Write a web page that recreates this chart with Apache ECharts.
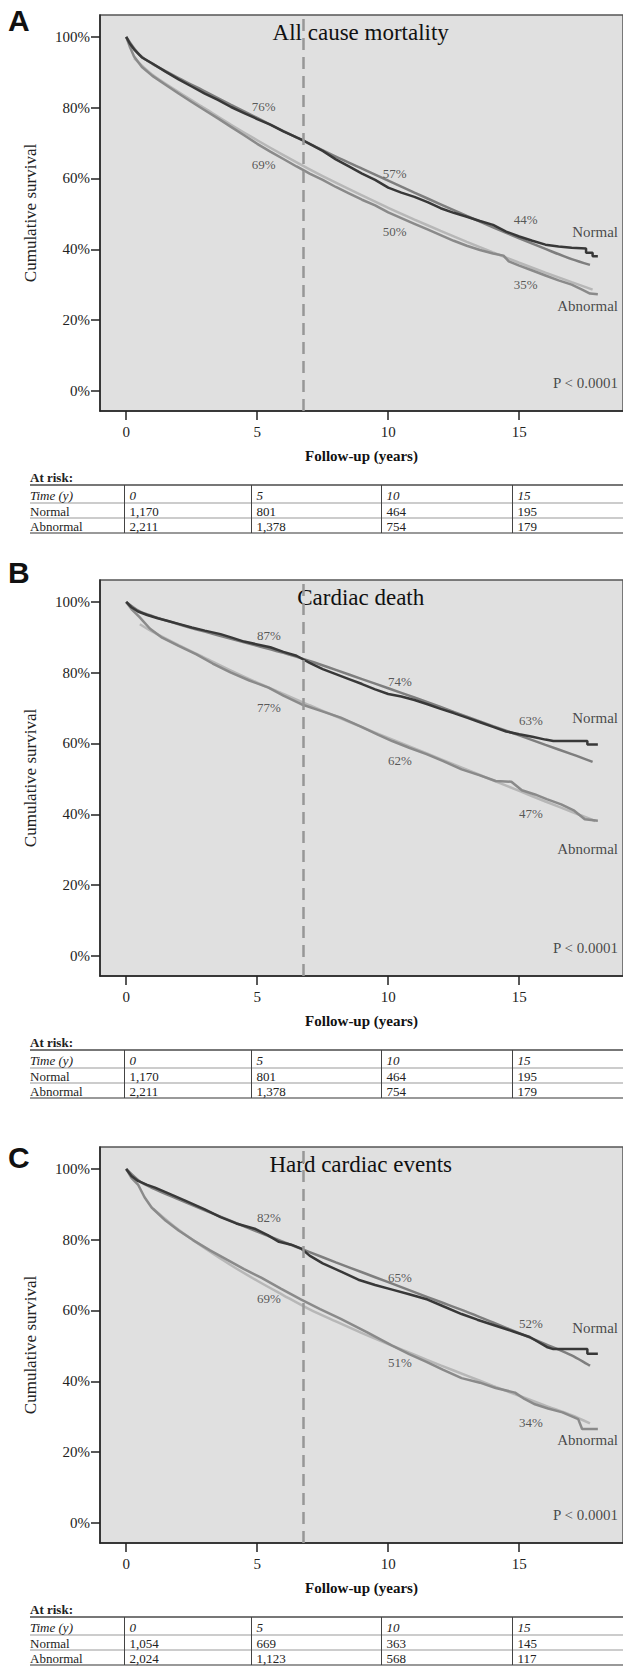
<!DOCTYPE html>
<html>
<head>
<meta charset="utf-8">
<script src="https://cdn.jsdelivr.net/npm/echarts@6.0.0/dist/echarts.min.js"></script>
<style>
html,body{margin:0;padding:0;background:#fff;}
#main{width:623px;height:1669px;}
</style>
</head>
<body>
<div id="main"></div>
<script>
// ---- data ----
const tickYears = [0, 5, 10, 15];
const tickPct = [0, 20, 40, 60, 80, 100];
const cutoffYear = 6.77;
const panelLetters = ['A', 'B', 'C'];
const panelTitles = ['All cause mortality', 'Cardiac death', 'Hard cardiac events'];
const labelYears = [5, 10, 15];

// A: all cause mortality
const normalKM_A = [[0,100],[0.15,98],[0.3,96.5],[0.6,94.2],[1,92.5],[1.5,90.2],[2,88],[2.5,86],[3,84],[3.5,82.2],[4,80.2],[4.5,78.5],[5,76.8],[5.5,75.2],[6,73.3],[6.5,71.6],[6.8,70.6],[7,69.8],[7.5,67.8],[8,65.4],[8.5,63.4],[9,61.4],[9.5,59.6],[10,57.4],[10.5,56],[11,54.8],[11.5,53.3],[12,51.6],[12.5,50.3],[13,49.2],[13.5,48],[14,46.9],[14.5,45],[15,43.6],[15.5,42.4],[16,41.3],[16.5,40.8],[17,40.4],[17.55,40.2],[17.55,39],[17.8,39],[17.8,38],[18,38]];
const normalFit_A = [[0,100],[0.5,95],[1,92.4],[2,88.4],[3,84.6],[4,80.8],[5,77.1],[6,73.4],[7,69.8],[8,66.2],[9,62.8],[10,59.4],[11,56],[12,52.7],[13,49.4],[14,46.2],[15,43.1],[16,40.1],[17,37.2],[17.7,35.6]];
const abnormalKM_A = [[0,100],[0.15,97],[0.3,94.5],[0.6,91.5],[1,89],[1.5,86.5],[2,84],[2.5,81.6],[3,79.3],[3.5,77],[4,74.6],[4.5,72.2],[5,69.8],[5.5,67.6],[6,65.5],[6.5,63.4],[6.8,62.2],[7,61.4],[7.5,59.6],[8,57.6],[8.5,55.8],[9,54],[9.5,52.4],[10,50.4],[10.5,48.8],[11,47.2],[11.5,45.6],[12,44],[12.5,42.4],[13,41],[13.5,39.8],[14,38.8],[14.4,38.2],[14.6,36.6],[15,35.4],[15.5,34],[16,32.6],[16.5,31.2],[17,30],[17.4,28.6],[17.7,27.5],[18,27.3]];
const abnormalFit_A = [[0.3,94],[1,89.3],[2,84.4],[3,79.8],[4,75.2],[5,70.8],[6,66.6],[7,62.6],[8,58.8],[9,55.2],[10,51.7],[11,48.4],[12,45.2],[13,42.1],[14,39.1],[15,36.2],[16,33.4],[17,30.7],[17.8,28.6]];
const normalPct_A = [76, 57, 44];
const abnormalPct_A = [69, 50, 35];
const riskNormal_A = ['1,170', '801', '464', '195'];
const riskAbnormal_A = ['2,211', '1,378', '754', '179'];

// B: cardiac death
const normalKM_B = [[0,100],[0.2,98.5],[0.45,97.3],[0.8,96.3],[1.2,95.4],[1.6,94.6],[2,93.8],[2.5,92.8],[3,91.9],[3.6,90.9],[4,90],[4.5,88.8],[5,88],[5.5,87.2],[6,85.9],[6.5,84.8],[6.8,83.6],[7,82.8],[7.5,81],[8,79.6],[8.5,78.2],[9,76.8],[9.5,75.3],[10,74],[10.5,73.3],[11,72.3],[11.5,71.1],[12,69.8],[12.5,68.6],[13,67.3],[13.5,66],[14,64.7],[14.5,63.4],[15,62.6],[15.5,61.9],[16,61.1],[16.3,60.7],[17.6,60.7],[17.6,59.7],[18,59.7]];
const normalFit_B = [[0,100],[0.5,97.4],[1,96],[2,93.7],[3,91.6],[4,89.6],[5,87.6],[6,85.6],[7,83.3],[8,80.8],[9,78.2],[10,75.6],[11,73],[12,70.3],[13,67.6],[14,64.9],[15,62.3],[16,59.6],[17,57],[17.8,54.8]];
const abnormalKM_B = [[0,100],[0.2,98],[0.5,95.8],[0.9,92.5],[1.37,89.9],[2,87.6],[2.68,85.2],[3.3,82.6],[4,80],[4.7,77.8],[5.43,75.8],[6,73.5],[6.68,71.1],[7.4,69.3],[8.19,67.3],[9,64.6],[9.6,62.5],[10.15,60.7],[10.8,58.8],[11.46,57],[12.1,55],[12.8,52.7],[13.5,51],[14.1,49.4],[14.7,49.2],[15.1,46.8],[15.6,45.6],[16.05,44.3],[16.6,42.8],[17.1,41],[17.5,38.6],[18,38.2]];
const abnormalFit_B = [[0.52,93.7],[1,91.6],[2,87.8],[3,84.2],[4,80.6],[5,77.2],[6,74],[7,70.8],[8,67.7],[9,64.6],[10,61.6],[11,58.6],[12,55.6],[13,52.6],[14,49.6],[15,46.6],[16,43.6],[17,40.7],[17.9,38.1]];
const normalPct_B = [87, 74, 63];
const abnormalPct_B = [77, 62, 47];
const riskNormal_B = ['1,170', '801', '464', '195'];
const riskAbnormal_B = ['2,211', '1,378', '754', '179'];

// C: hard cardiac events
const normalKM_C = [[0,100],[0.2,98],[0.45,96.6],[0.8,95.5],[1.1,94.7],[1.7,92.8],[2.27,91],[3,88.6],[3.6,86.4],[4.2,84.6],[4.9,83.1],[5.4,81.3],[5.83,79.4],[6.3,78.6],[6.68,77.5],[7,75.5],[7.5,73.3],[8.2,71],[8.86,68.7],[9.5,67.2],[10.15,65.9],[10.8,64.6],[11.5,63.1],[12.1,61.2],[12.8,59],[13.4,57.4],[14.1,55.7],[14.8,54],[15.4,52.5],[16.05,49.7],[16.3,49.1],[17.6,49.1],[17.6,47.8],[18,47.8]];
const normalFit_C = [[0,100],[0.5,96.6],[1,94.6],[2,91.4],[3,88.3],[4,85.3],[5,82.3],[6,79.4],[7,76.5],[8,73.6],[9,70.8],[10,68],[11,65.2],[12,62.4],[13,59.6],[14,56.6],[15,53.6],[16,50.5],[17,47.3],[17.7,44.4]];
const abnormalKM_C = [[0,100],[0.2,97.5],[0.45,95.6],[0.7,92],[0.97,89.1],[1.5,85.4],[2,82.6],[2.55,79.9],[3.2,77],[3.86,74.3],[4.5,71.7],[5.17,69.2],[5.9,66.2],[6.68,63.1],[7.4,60.4],[8.19,57.6],[9.2,53.8],[10.15,50.1],[10.8,47.7],[11.46,45.5],[12.1,43.2],[12.8,40.9],[13.5,39.6],[14.1,38.1],[14.84,36.8],[15.2,35],[15.6,33.5],[16.1,32.3],[16.65,31.2],[17.25,29.3],[17.4,26.5],[18,26.5]];
const abnormalFit_C = [[1.04,88.7],[2,82.8],[3,77.6],[4,72.8],[5,68.4],[6,64.3],[7,60.3],[8,56.9],[9,53.6],[10,50.5],[11,47.5],[12,44.5],[13,41.6],[14,38.7],[15,35.9],[16,33.1],[17,30.4],[17.7,28.1]];
const normalPct_C = [82, 65, 52];
const abnormalPct_C = [69, 51, 34];
const riskNormal_C = ['1,054', '669', '363', '145'];
const riskAbnormal_C = ['2,024', '1,123', '568', '117'];

// ---- layout ----
const SERIF = "'Liberation Serif', 'DejaVu Serif', serif";
const SANS = "'Liberation Sans', Arial, sans-serif";
const GRID_H = 396;
// table column separators sit a little left of each tick (in years)
const colShift = [-0.1, -0.24, -0.29, -0.26];

const panels = [
  {top: 15, letterY: 20, nKM: normalKM_A, nFit: normalFit_A, aKM: abnormalKM_A, aFit: abnormalFit_A,
   nPct: normalPct_A, aPct: abnormalPct_A, rN: riskNormal_A, rA: riskAbnormal_A,
   dx: 0.25, nDy: 4.3, aDy: -5, nTagY: 45, aTagY: 23.9},
  {top: 580, letterY: 572, nKM: normalKM_B, nFit: normalFit_B, aKM: abnormalKM_B, aFit: abnormalFit_B,
   nPct: normalPct_B, aPct: abnormalPct_B, rN: riskNormal_B, rA: riskAbnormal_B,
   dx: 0.45, nDy: 3.5, aDy: -6.9, nTagY: 67.2, aTagY: 30.2},
  {top: 1147, letterY: 1157, nKM: normalKM_C, nFit: normalFit_C, aKM: abnormalKM_C, aFit: abnormalFit_C,
   nPct: normalPct_C, aPct: abnormalPct_C, rN: riskNormal_C, rA: riskAbnormal_C,
   dx: 0.45, nDy: 4.3, aDy: -5.6, nTagY: 55.1, aTagY: 23.5}
];

const chart = echarts.init(document.getElementById('main'), null, {renderer: 'svg'});

const grids = [], xAxes = [], yAxes = [], series = [];
panels.forEach((p, i) => {
  grids.push({left: 100, right: -2, top: p.top, height: GRID_H, show: true,
    backgroundColor: '#e0e0e0', borderColor: '#555', borderWidth: 1.5});
  xAxes.push({
    type: 'value', gridIndex: i, min: -1, max: 18.96,
    axisLine: {show: true, onZero: false, lineStyle: {color: '#222', width: 1.5}},
    axisTick: {show: true, inside: false, length: 9, customValues: tickYears, lineStyle: {color: '#222', width: 1.5}},
    axisLabel: {customValues: tickYears, fontFamily: SERIF, fontSize: 15, color: '#222', margin: 13},
    splitLine: {show: false},
    name: 'Follow-up (years)', nameLocation: 'middle', nameGap: 37,
    nameTextStyle: {fontFamily: SERIF, fontWeight: 'bold', fontSize: 15, color: '#111'}
  });
  yAxes.push({
    type: 'value', gridIndex: i, min: -5.7, max: 106.2,
    axisLine: {show: true, onZero: false, lineStyle: {color: '#222', width: 1.5}},
    axisTick: {show: true, inside: false, length: 9, customValues: tickPct, lineStyle: {color: '#222', width: 1.5}},
    axisLabel: {customValues: tickPct, formatter: '{value}%', fontFamily: SERIF, fontSize: 15, color: '#222', margin: 10},
    splitLine: {show: false},
    name: 'Cumulative survival', nameLocation: 'middle', nameGap: 61,
    nameTextStyle: {fontFamily: SERIF, fontSize: 17, color: '#222'}
  });

  const base = {xAxisIndex: i, yAxisIndex: i, showSymbol: false, symbol: 'none', silent: true, animation: false};
  series.push(Object.assign({}, base, {
    type: 'line', data: p.nFit, smooth: 0.3, z: 2,
    lineStyle: {color: '#7e7e7e', width: 2.5},
    markLine: {silent: true, symbol: 'none', label: {show: false}, animation: false,
      lineStyle: {type: [12, 7], color: '#979797', width: 2.5}, data: [{xAxis: cutoffYear}]}
  }));
  series.push(Object.assign({}, base, {type: 'line', data: p.aFit, smooth: 0.3, z: 2,
    lineStyle: {color: '#b7b7b7', width: 2.5}}));
  series.push(Object.assign({}, base, {type: 'line', data: p.aKM, z: 3,
    lineStyle: {color: '#8a8a8a', width: 2.5}}));
  series.push(Object.assign({}, base, {type: 'line', data: p.nKM, z: 4,
    lineStyle: {color: '#383838', width: 2.5}}));

  // percentage annotations next to the curves
  const ann = [];
  labelYears.forEach((yr, k) => {
    ann.push({value: [yr + p.dx, p.nPct[k] + p.nDy], name: p.nPct[k] + '%'});
    ann.push({value: [yr + p.dx, p.aPct[k] + p.aDy], name: p.aPct[k] + '%'});
  });
  series.push({type: 'scatter', xAxisIndex: i, yAxisIndex: i, symbolSize: 0, silent: true, z: 5,
    data: ann,
    label: {show: true, position: 'inside', formatter: '{b}', fontFamily: SERIF, fontSize: 13, color: '#333'}});

  // group names and p-value, right aligned inside the plot
  series.push({type: 'scatter', xAxisIndex: i, yAxisIndex: i, symbolSize: 0, silent: true, z: 5,
    data: [{value: [18.77, p.nTagY], name: 'Normal'}, {value: [18.77, p.aTagY], name: 'Abnormal'},
           {value: [18.77, 2.2], name: 'P < 0.0001'}],
    label: {show: true, position: 'left', distance: 0, formatter: '{b}', fontFamily: SERIF, fontSize: 15, color: '#222'}});
});

chart.setOption({
  animation: false,
  grid: grids, xAxis: xAxes, yAxis: yAxes, series: series
});

// ---- panel letters, titles and at-risk tables ----
const graphics = [];
function txt(x, y, text, style) {
  graphics.push({type: 'text', x: x, y: y, silent: true,
    style: Object.assign({text: text, fontFamily: SERIF, fontSize: 13, fill: '#222', align: 'left', verticalAlign: 'middle'}, style || {})});
}
function ln(x1, y1, x2, y2, stroke, w) {
  graphics.push({type: 'line', silent: true, shape: {x1: x1, y1: y1, x2: x2, y2: y2}, style: {stroke: stroke, lineWidth: w}});
}

panels.forEach((p, i) => {
  const bottom = p.top + GRID_H;
  const midX = chart.convertToPixel({gridIndex: i}, [8.95, 0])[0];
  txt(8, p.letterY, panelLetters[i], {fontFamily: SANS, fontWeight: 'bold', fontSize: 30, fill: '#111'});
  txt(midX, p.top + 17, panelTitles[i], {fontSize: 23, align: 'center', fill: '#111'});

  const tTop = bottom + 74, r1 = bottom + 92, r2 = bottom + 107, tBot = bottom + 122;
  txt(30, bottom + 66, 'At risk:', {fontWeight: 'bold'});
  ln(30, tTop, 623, tTop, '#777', 2);
  ln(30, r1, 623, r1, '#999', 1);
  ln(30, r2, 623, r2, '#999', 1);
  ln(30, tBot, 623, tBot, '#777', 1.5);
  txt(30, bottom + 84, 'Time (y)', {fontStyle: 'italic'});
  txt(30, bottom + 100, 'Normal');
  txt(30, bottom + 115, 'Abnormal');
  tickYears.forEach((yr, c) => {
    const xb = Math.round(chart.convertToPixel({gridIndex: i}, [yr + colShift[c], 0])[0]) + 0.5;
    ln(xb, tTop, xb, tBot, '#444', 1);
    txt(xb + 5, bottom + 84, String(yr), {fontStyle: 'italic'});
    txt(xb + 5, bottom + 100, p.rN[c]);
    txt(xb + 5, bottom + 115, p.rA[c]);
  });
});

chart.setOption({graphic: graphics});
</script>
